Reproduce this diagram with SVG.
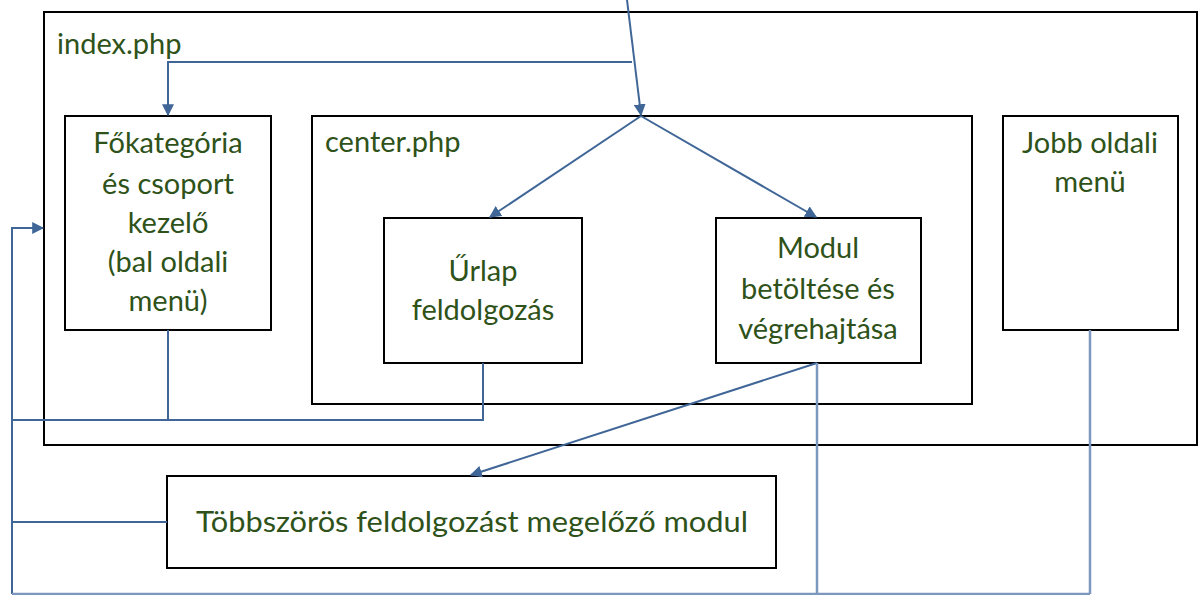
<svg xmlns="http://www.w3.org/2000/svg" width="1201" height="595" viewBox="0 0 1201 595">
<style>
.box{fill:#fff;stroke:#000;stroke-width:2}
.outer{fill:none;stroke:#000;stroke-width:2}
.t{font-family:Lato,"Open Sans","Liberation Sans",sans-serif;font-size:29px;fill:#2e5219}
.c{text-anchor:middle}
.ln{fill:none;stroke:#3f6697;stroke-width:2}
.lt{fill:none;stroke:#7d98be;stroke-width:2.5}
</style>
<defs>
<marker id="ah" viewBox="0 0 10 10" refX="9" refY="5" markerWidth="6" markerHeight="6" orient="auto" markerUnits="strokeWidth">
<path d="M0,0 L10,5 L0,10 z" fill="#3f6697"/>
</marker>
</defs>
<rect width="1201" height="595" fill="#fff"/>
<g id="index">
<rect class="outer" x="44" y="12" width="1153" height="433"/>
<text class="t" x="57" y="54">index.php</text>
</g>
<g id="center">
<rect class="box" x="312" y="116" width="660" height="288"/>
<text class="t" x="325" y="152">center.php</text>
</g>
<g id="fokategoria">
<rect class="box" x="65" y="116" width="206" height="214"/>
<text class="t c" x="168" y="153">Főkategória</text>
<text class="t c" x="168" y="194">és csoport</text>
<text class="t c" x="168" y="233">kezelő</text>
<text class="t c" x="168" y="272">(bal oldali</text>
<text class="t c" x="168" y="311">menü)</text>
</g>
<g id="urlap">
<rect class="box" x="384" y="218" width="198" height="145"/>
<text class="t c" x="483" y="281">Űrlap</text>
<text class="t c" x="483" y="320">feldolgozás</text>
</g>
<g id="modul">
<rect class="box" x="716" y="218" width="205" height="145"/>
<text class="t c" x="818" y="258">Modul</text>
<text class="t c" x="818" y="299">betöltése és</text>
<text class="t c" x="818" y="339">végrehajtása</text>
</g>
<g id="jobb">
<rect class="box" x="1003" y="116" width="175" height="214"/>
<text class="t c" x="1090" y="153">Jobb oldali</text>
<text class="t c" x="1090" y="192">menü</text>
</g>
<g id="tobbszoros">
<rect class="box" x="167" y="476" width="609" height="92"/>
<text class="t" x="196" y="532" textLength="552" lengthAdjust="spacingAndGlyphs">Többszörös feldolgozást megelőző modul</text>
</g>
<g id="connectors">
<path class="ln" d="M627,0 L641,115" marker-end="url(#ah)"/>
<path class="ln" d="M632,62 H168 V115" marker-end="url(#ah)"/>
<path class="ln" d="M641,116 L490,217" marker-end="url(#ah)"/>
<path class="ln" d="M641,116 L816,217" marker-end="url(#ah)"/>
<path class="ln" d="M168,330 V420"/>
<path class="ln" d="M483,363 V420 H12"/>
<path class="ln" d="M12,594 V228 H43" marker-end="url(#ah)"/>
<path class="ln" d="M167,522 H12"/>
<path class="ln" d="M817,363 L471,475" marker-end="url(#ah)"/>
<path class="lt" d="M817,363 V594"/>
<path class="lt" d="M1090,330 V594"/>
<path class="lt" d="M12,594 H1090"/>
</g>
</svg>
